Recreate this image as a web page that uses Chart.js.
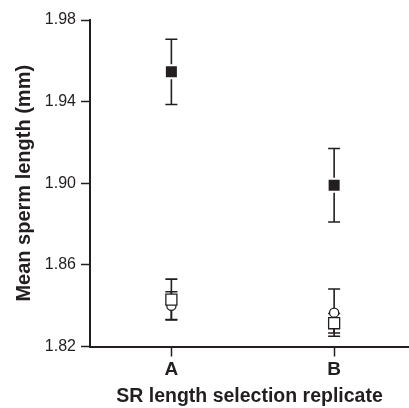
<!DOCTYPE html>
<html lang="en">
<head>
  <meta charset="UTF-8">
  <title>Mean sperm length</title>
  <script src="https://cdn.jsdelivr.net/npm/chart.js"></script>
  <style>
    html, body { margin: 0; padding: 0; background: #fff; }
    #wrap { width: 409px; height: 408px; }
  </style>
</head>
<body>
<div id="wrap"><canvas id="spermChart"></canvas></div>

<script>
  // replicate lines on the x axis
  const categories = ['A', 'B'];

  // filled squares
  const filledMeans = [1.9546, 1.8990];
  const filledErr = [0.016, 0.018];

  // open squares
  const openSquareMeans = [1.8430, 1.8314];
  const openSquareErr = [0.010, 0.0048];

  // open circles
  const openCircleMeans = [1.8400, 1.8366];
  const openCircleErr = [0.0068, 0.0116];

  const yTicks = [1.82, 1.86, 1.90, 1.94, 1.98];

  const ink = '#231f20';
  const font = 'Liberation Sans, Arial, Helvetica, sans-serif';

  function toPoints(means) {
    return means.map((m, i) => ({ x: i + 1, y: m }));
  }

  const allSeries = [
    { means: openCircleMeans, err: openCircleErr },
    { means: openSquareMeans, err: openSquareErr },
    { means: filledMeans, err: filledErr }
  ];

  // error bars go under the markers
  const errorBars = {
    id: 'errorBars',
    beforeDatasetsDraw(chart) {
      const { ctx, scales: { x, y } } = chart;
      ctx.save();
      ctx.strokeStyle = ink;
      ctx.lineWidth = 1.6;
      allSeries.forEach(s => {
        s.means.forEach((m, i) => {
          const px = x.getPixelForValue(i + 1);
          const top = y.getPixelForValue(m + s.err[i]);
          const bot = y.getPixelForValue(m - s.err[i]);
          ctx.beginPath();
          ctx.moveTo(px, top);
          ctx.lineTo(px, bot);
          ctx.moveTo(px - 6, top);
          ctx.lineTo(px + 6, top);
          ctx.moveTo(px - 6, bot);
          ctx.lineTo(px + 6, bot);
          ctx.stroke();
        });
      });
      ctx.restore();
    }
  };

  new Chart(document.getElementById('spermChart'), {
    type: 'scatter',
    data: {
      datasets: [
        {
          data: toPoints(filledMeans),
          pointStyle: 'rect',
          pointRadius: 9.2,
          backgroundColor: ink,
          borderColor: '#fff',
          borderWidth: 2,
          order: 1
        },
        {
          data: toPoints(openSquareMeans),
          pointStyle: 'rect',
          pointRadius: 7.8,
          backgroundColor: '#fff',
          borderColor: ink,
          borderWidth: 1.3,
          order: 2
        },
        {
          data: toPoints(openCircleMeans),
          pointStyle: 'circle',
          pointRadius: 4.6,
          backgroundColor: '#fff',
          borderColor: ink,
          borderWidth: 1.3,
          order: 3
        }
      ]
    },
    options: {
      responsive: true,
      maintainAspectRatio: false,
      animation: false,
      events: [],
      layout: { autoPadding: false, padding: { top: 20, right: 0, bottom: 0, left: 0 } },
      plugins: { legend: { display: false }, tooltip: { enabled: false } },
      scales: {
        x: {
          type: 'linear',
          min: 0.5,
          max: 2.46,
          afterFit(scale) { scale.height = 61.5; },
          afterBuildTicks(scale) { scale.ticks = categories.map((c, i) => ({ value: i + 1 })); },
          border: { display: true, color: ink, width: 2 },
          grid: { drawOnChartArea: false, drawTicks: true, tickLength: 10, tickColor: ink, tickWidth: 1.5 },
          ticks: {
            color: ink,
            padding: 2,
            font: { family: font, size: 19, weight: 'bold' },
            callback: v => categories[v - 1]
          },
          title: {
            display: true,
            text: 'SR length selection replicate',
            color: ink,
            padding: { top: 9, bottom: 0 },
            font: { family: font, size: 19.5, weight: 'bold' }
          }
        },
        y: {
          min: 1.82,
          max: 1.98,
          afterFit(scale) { scale.width = 90; },
          afterBuildTicks(scale) { scale.ticks = yTicks.map(v => ({ value: v })); },
          border: { display: true, color: ink, width: 2 },
          grid: { drawOnChartArea: false, drawTicks: true, tickLength: 9, tickColor: ink, tickWidth: 1.5 },
          ticks: {
            color: ink,
            padding: 5,
            font: { family: font, size: 16 },
            callback: v => v.toFixed(2)
          },
          title: {
            display: true,
            text: 'Mean sperm length (mm)',
            color: ink,
            padding: { top: 12, bottom: 0 },
            font: { family: font, size: 20, weight: 'bold' }
          }
        }
      }
    },
    plugins: [errorBars]
  });
</script>
</body>
</html>
